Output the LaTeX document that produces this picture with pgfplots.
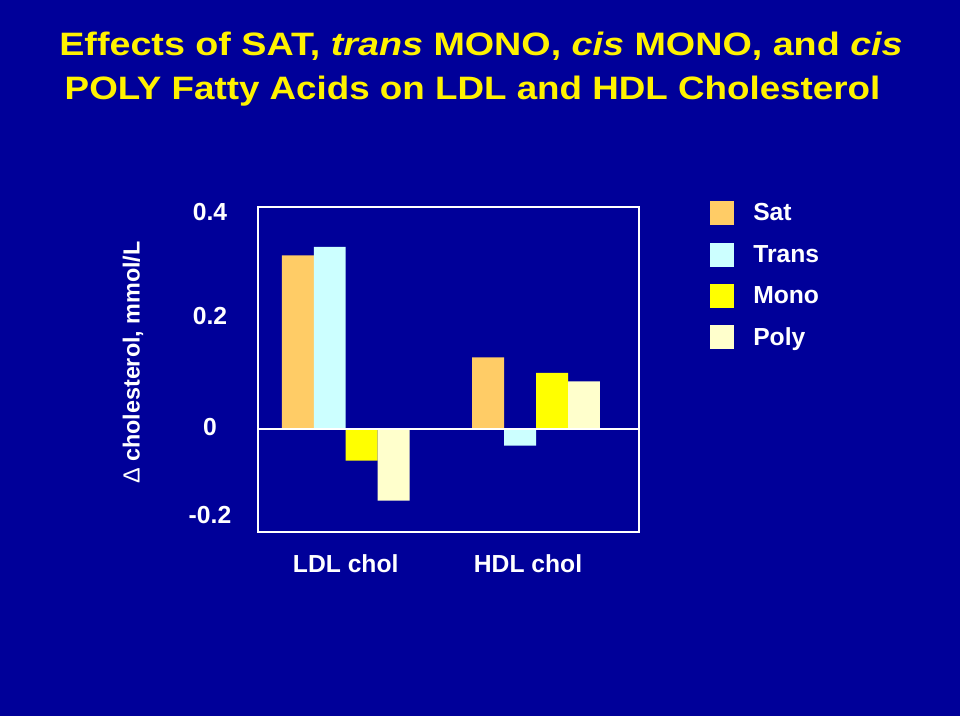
\documentclass[border=0pt]{standalone}
\usepackage{pgfplots}
\pgfplotsset{compat=1.18}
\usepackage{fontspec}
\setmainfont{Liberation Sans}
\definecolor{bg}{RGB}{0,0,153}
\definecolor{satc}{RGB}{255,204,102}
\definecolor{transc}{RGB}{204,255,255}
\definecolor{monoc}{RGB}{255,255,0}
\definecolor{polyc}{RGB}{255,255,204}
\begin{document}
\begin{tikzpicture}[x=0.75pt,y=0.75pt]
\fill[bg] (0,0) rectangle (960,716);
\node[anchor=base, text=yellow, inner sep=0pt, font=\fontsize{27pt}{30pt}\selectfont\bfseries] at (481,660)
  {\scalebox{1.047}[0.9]{Effects of SAT, \textit{trans} MONO, \textit{cis} MONO, and \textit{cis}}};
\node[anchor=base, text=yellow, inner sep=0pt, font=\fontsize{27pt}{30pt}\selectfont\bfseries] at (472.5,616)
  {\scalebox{1.021}[0.9]{POLY Fatty Acids on LDL and HDL Cholesterol}};
\node[rotate=90, text=white, inner sep=0pt, font=\fontsize{17.5pt}{20pt}\selectfont\bfseries] at (133,353.5)
  {{\mdseries Δ} cholesterol, mmol/L};
\begin{axis}[
  at={(193.5pt,138pt)}, anchor=south west,
  scale only axis, width=285.75pt, height=243.75pt,
  xmin=-0.461, xmax=1.541, ymin=-0.1856, ymax=0.4,
  ybar=0pt, bar width=0.168,
  axis line style={white, line width=1pt},
  axis on top,
  major tick length=0pt,
  xtick={0,0.958}, xticklabels={LDL chol, HDL chol},
  xticklabel style={anchor=base, yshift=-30.75pt, text=white, font=\fontsize{18.5pt}{20pt}\selectfont\bfseries},
  ytick={0.391,0.204,0.004,-0.155}, yticklabels={0.4,0.2,0,-0.2},
  yticklabel style={anchor=center, xshift=-36pt, text=white, font=\fontsize{18.5pt}{20pt}\selectfont\bfseries},
  extra y ticks={0}, extra y tick labels={},
  extra y tick style={grid=major, major grid style={white, line width=1pt}},
  legend style={at={(1.1864,1.045)}, anchor=north west, draw=none, fill=none, inner sep=0pt,
    text=white, font=\fontsize{18.5pt}{20pt}\selectfont\bfseries, row sep=0pt,
    nodes={inner sep=0pt, minimum height=31pt}},
  legend cell align=left,
  legend image code/.code={\fill[#1, draw=none] (0pt,-9pt) rectangle (18pt,9pt); \path[draw=none,fill=none] (32.25pt,0pt);},
]
\addplot[fill=satc, draw=none] coordinates {(0,0.313) (1,0.129)};
\addplot[fill=transc, draw=none] coordinates {(0,0.328) (1,-0.030)};
\addplot[fill=monoc, draw=none] coordinates {(0,-0.057) (1,0.101)};
\addplot[fill=polyc, draw=none] coordinates {(0,-0.129) (1,0.086)};
\legend{Sat, Trans, Mono, Poly}
\end{axis}
\end{tikzpicture}
\end{document}
